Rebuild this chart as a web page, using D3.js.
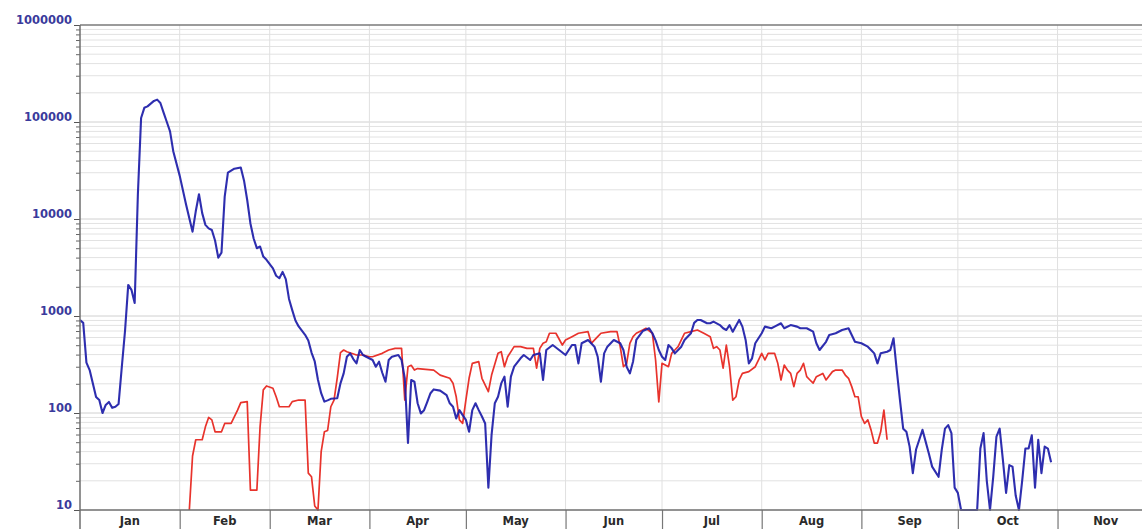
<!DOCTYPE html>
<html>
<head>
<meta charset="utf-8">
<script src="https://cdn.jsdelivr.net/npm/d3@7"></script>
<style>
	body{margin:0;background:#fff;}
	svg{display:block;}
</style>
</head>
<body>
<svg id="chart" width="1142" height="529"></svg>
<script>
// day of year (0 = Jan 1), value
const blueSeries = [
	[0,910],[1,850],[2,330],[3,277],[5,146],[6,136],[7,100],[8,121],[9,130],[10,113],[11,116],[12,124],[13,298],[14,700],
	[15,2090],[16,1860],[17,1360],[18,18000],[19,110000],[20,140000],[21,145000],[23,165000],[24,170000],[25,157000],
	[26,125000],[27,100000],[28,80000],[29,50000],[31,28000],[33,14000],[35,7400],[36,12000],[37,18000],[38,11500],
	[39,8700],[40,8000],[41,7700],[42,6000],[43,4000],[44,4500],[45,17000],[46,30000],[48,33000],[50,34000],[51,25000],
	[52,15700],[53,9000],[54,6300],[55,5000],[56,5200],[57,4100],[58,3800],[60,3100],[61,2600],[62,2450],[63,2850],
	[64,2400],[65,1500],[66,1150],[67,900],[68,780],[70,640],[71,560],[72,420],[73,340],[74,220],[75,160],[76,131],
	[77,135],[78,140],[80,142],[81,202],[82,256],[83,380],[84,412],[85,360],[86,325],[87,446],[88,396],[89,380],
	[91,352],[92,300],[93,338],[94,260],[95,210],[96,352],[97,380],[99,396],[100,352],[101,228],[102,49],[103,219],
	[104,210],[105,126],[106,99],[107,107],[108,130],[109,160],[110,175],[112,170],[114,153],[115,126],[116,116],
	[117,88],[118,107],[119,95],[120,85],[121,64],[122,107],[123,126],[124,107],[125,92],[126,78],[127,17],[128,60],
	[129,126],[130,147],[131,202],[132,237],[133,116],[134,237],[135,300],[137,366],[138,396],[140,352],[141,396],
	[143,412],[144,219],[145,446],[147,502],[149,446],[151,396],[153,502],[154,502],[155,325],[156,523],[158,566],
	[160,483],[161,380],[162,210],[163,412],[164,483],[166,566],[168,523],[169,446],[170,300],[171,256],[172,340],
	[173,566],[175,700],[177,747],[178,664],[179,560],[180,446],[181,380],[182,352],[183,502],[184,464],[185,412],
	[187,483],[188,566],[190,664],[191,850],[192,910],[193,910],[195,842],[196,842],[197,874],[199,806],[200,747],
	[201,717],[202,806],[203,689],[205,910],[206,777],[207,566],[208,325],[209,366],[210,523],[212,664],[213,777],
	[215,747],[216,777],[218,842],[219,747],[221,806],[223,777],[224,747],[226,747],[228,689],[229,523],[230,446],
	[232,542],[233,638],[235,664],[237,717],[239,747],[240,638],[241,542],[243,523],[245,483],[246,446],[247,412],
	[248,325],[249,412],[251,428],[252,446],[253,588],[254,277],[255,136],[256,69],[257,64],[258,45],[259,24],
	[260,42],[261,53],[262,67],[264,38],[265,28],[267,22],[268,42],[269,69],[270,75],[271,62],[272,17],[273,15],
	[274,10],[279,10],[280,43],[281,62],[282,20],[283,10],[284,22],[285,57],[286,69],[287,33],[288,15],[289,29],
	[290,28],[291,14],[292,10],[293,20],[294,43],[295,43],[296,59],[297,17],[298,53],[299,24],[300,45],[301,43],[302,31]
];

const redSeries = [
	[34,10],[35,36],[36,53],[38,53],[39,72],[40,90],[41,85],[42,64],[44,64],[45,78],[47,78],[49,107],[50,128],
	[52,131],[53,16],[55,16],[56,72],[57,173],[58,190],[60,180],[61,147],[62,116],[65,116],[66,131],[68,136],
	[70,136],[71,24],[72,22],[73,11],[74,10],[75,40],[76,64],[77,66],[78,116],[79,136],[80,230],[81,420],[82,446],
	[83,428],[86,396],[88,396],[90,380],[91,380],[94,412],[96,446],[98,464],[100,464],[101,136],[102,300],[103,310],
	[104,277],[105,287],[110,277],[112,246],[115,228],[116,203],[117,147],[118,85],[119,78],[120,136],[121,228],
	[122,325],[124,338],[125,228],[127,166],[128,246],[130,412],[131,428],[132,300],[133,380],[135,483],[137,483],
	[139,464],[141,464],[142,290],[143,464],[144,523],[145,542],[146,664],[148,664],[150,502],[151,566],[153,612],
	[155,664],[158,689],[159,523],[161,612],[162,664],[165,689],[167,689],[168,483],[169,300],[170,325],[171,523],
	[172,612],[173,664],[175,717],[176,747],[178,664],[179,352],[180,130],[181,325],[183,300],[184,412],[185,446],
	[186,483],[187,566],[188,664],[190,689],[192,717],[194,664],[196,612],[197,464],[198,483],[199,446],[200,290],
	[201,500],[202,300],[203,136],[204,147],[205,219],[206,256],[208,267],[210,300],[212,412],[213,352],[214,412],
	[216,412],[217,325],[218,219],[219,312],[220,277],[221,256],[222,187],[223,256],[224,277],[225,325],[226,237],
	[227,219],[228,203],[229,237],[231,256],[232,219],[234,267],[235,277],[237,277],[238,246],[239,228],[240,187],
	[241,147],[242,147],[243,92],[244,78],[245,85],[246,67],[247,49],[248,49],[249,64],[250,107],[251,53]
];

const yTicks = [10,100,1000,10000,100000,1000000];
const monthLabels = ['Jan','Feb','Mar','Apr','May','Jun','Jul','Aug','Sep','Oct','Nov'];

const W = 1142, H = 529;
const yearStart = new Date(Date.UTC(2021,0,1));
const toDate = d => d3.utcDay.offset(yearStart, d);

const x = d3.scaleUtc()
	.domain([yearStart, new Date(Date.UTC(2021,11,1))])
	.range([80, 1154]);
const y = d3.scaleLog()
	.domain([10, 1000000])
	.range([510, 25]);

const svg = d3.select('#chart');

// minor values 2..9 of each decade
const minorTicks = [];
yTicks.slice(0,-1).forEach(dec => d3.range(2,10).forEach(k => minorTicks.push(dec*k)));
const months = d3.utcMonths(yearStart, new Date(Date.UTC(2021,11,2)));

// horizontal grid
svg.append('g').selectAll('line')
	.data(minorTicks)
	.join('line')
	.attr('x1',80).attr('x2',W)
	.attr('y1',d=>y(d)).attr('y2',d=>y(d))
	.style('stroke','#e2e2e2').style('stroke-width',1);
svg.append('g').selectAll('line')
	.data(yTicks.slice(1,-1))
	.join('line')
	.attr('x1',80).attr('x2',W)
	.attr('y1',d=>y(d)).attr('y2',d=>y(d))
	.style('stroke','#d0d0d0').style('stroke-width',1);

// vertical grid at month starts
svg.append('g').selectAll('line')
	.data(months.slice(1))
	.join('line')
	.attr('x1',d=>x(d)).attr('x2',d=>x(d))
	.attr('y1',25).attr('y2',510)
	.style('stroke','#e0e0e0').style('stroke-width',1);

// top border
svg.append('line')
	.attr('x1',80).attr('x2',W).attr('y1',y(1000000)).attr('y2',y(1000000))
	.style('stroke','#7a7a7a').style('stroke-width',1.5);

// series
const line = d3.line()
	.x(d=>x(toDate(d[0])))
	.y(d=>y(Math.max(10,d[1])));

svg.append('path')
	.datum(redSeries)
	.attr('d',line)
	.style('fill','none')
	.style('stroke','#e8332c')
	.style('stroke-width',1.7)
	.style('stroke-linejoin','round');

svg.append('path')
	.datum(blueSeries)
	.attr('d',line)
	.style('fill','none')
	.style('stroke','#1c1ca8')
	.style('stroke-width',2.1)
	.style('stroke-linejoin','round')
	.style('opacity',0.92);

// y axis
const yAxis = svg.append('g')
	.attr('transform','translate(80,0)')
	.call(d3.axisLeft(y).tickValues(yTicks).tickFormat(d3.format('d')).tickSize(6).tickPadding(2));
yAxis.select('.domain').remove();
yAxis.selectAll('.tick line').style('stroke','#555');
yAxis.selectAll('.tick text')
	.attr('dy','-0.1em')
	.style('font-family','"DejaVu Sans", sans-serif')
	.style('font-weight','bold')
	.style('font-size','11.5px')
	.style('fill','#3a3a9c');

const yMinor = svg.append('g')
	.attr('transform','translate(80,0)')
	.call(d3.axisLeft(y).tickValues(minorTicks).tickFormat('').tickSize(4));
yMinor.select('.domain').remove();
yMinor.selectAll('.tick line').style('stroke','#666');

svg.append('line')
	.attr('x1',80).attr('x2',80).attr('y1',25).attr('y2',H)
	.style('stroke','#6e6e6e').style('stroke-width',1.5);

// x axis: month separators below baseline
const xAxis = svg.append('g')
	.attr('transform','translate(0,510)')
	.call(d3.axisBottom(x).tickValues(months.slice(1)).tickFormat('').tickSize(19));
xAxis.select('.domain').remove();
xAxis.selectAll('.tick line').style('stroke','#777').style('stroke-width',1.2);

svg.append('line')
	.attr('x1',80).attr('x2',W).attr('y1',510).attr('y2',510)
	.style('stroke','#6e6e6e').style('stroke-width',1.5);

// month labels centered in each month
svg.append('g').selectAll('text')
	.data(monthLabels)
	.join('text')
	.attr('x',(d,i)=>(x(months[i])+x(months[i+1]))/2)
	.attr('y',525)
	.attr('text-anchor','middle')
	.style('font-family','"DejaVu Sans", sans-serif')
	.style('font-weight','bold')
	.style('font-size','11.5px')
	.style('fill','#2a2a2a')
	.text(d=>d);
</script>
</body>
</html>
